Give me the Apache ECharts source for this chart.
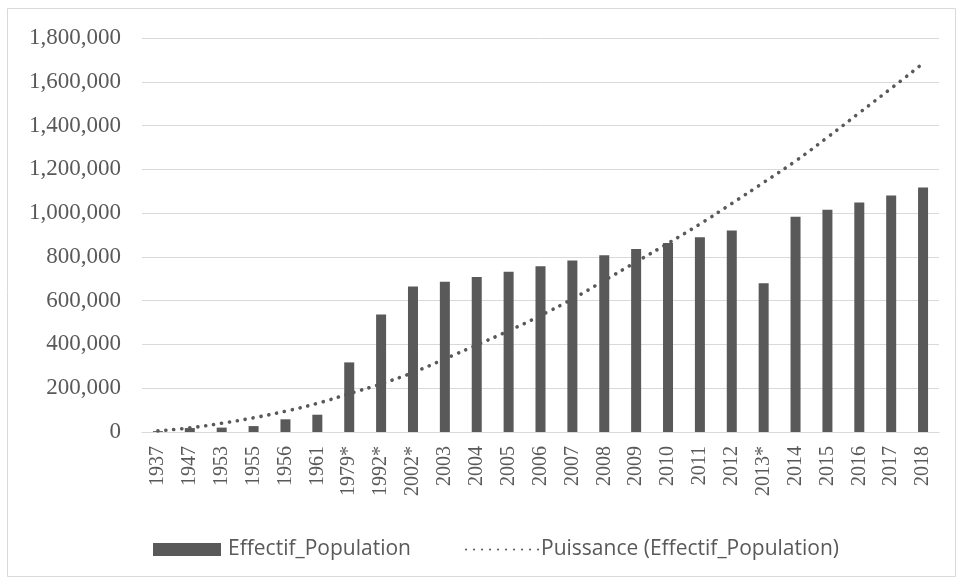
<!DOCTYPE html>
<html>
<head>
<meta charset="utf-8">
<script src="https://cdn.jsdelivr.net/npm/echarts@6/dist/echarts.min.js"></script>
<style>
html,body{margin:0;padding:0;background:#fff;}
#chart{width:956px;height:578px;}
</style>
</head>
<body>
<div id="chart"></div>
<script>
const categories = ['1937','1947','1953','1955','1956','1961','1979*','1992*','2002*','2003','2004','2005','2006','2007','2008','2009','2010','2011','2012','2013*','2014','2015','2016','2017','2018'];
const population = [4000, 18000, 20000, 27000, 58000, 79000, 318000, 537000, 665000, 686000, 708000, 732000, 757000, 783000, 808000, 836000, 863000, 890000, 921000, 680000, 983000, 1015000, 1048000, 1081000, 1117000];
const trend = [5000, 19000, 40000, 65000, 95000, 131000, 175000, 220000, 272000, 334000, 398000, 462000, 532000, 608000, 692000, 777000, 862000, 950000, 1044000, 1140000, 1238000, 1346000, 1458000, 1570000, 1684000];
const barName = 'Effectif_Population';
const trendName = 'Puissance (Effectif_Population)';

const chart = echarts.init(document.getElementById('chart'), null, {renderer: 'canvas'});
const grey = '#595959';
chart.setOption({
  animation: false,
  backgroundColor: '#fff',
  graphic: [{
    type: 'rect', silent: true, z: -1,
    shape: {x: 7.5, y: 8.5, width: 948, height: 568},
    style: {fill: 'none', stroke: '#d9d9d9', lineWidth: 1}
  }],
  grid: {left: 142, right: 17, top: 38, bottom: 146, containLabel: false},
  legend: [{
    data: [barName], left: 148, top: 534, icon: 'rect',
    itemWidth: 68, itemHeight: 13, itemGap: 0,
    textStyle: {fontFamily: 'Open Sans', fontSize: 21, color: grey, padding: [0,0,0,2]}
  }, {
    data: [trendName], left: 460, top: 534,
    itemWidth: 73, itemHeight: 13,
    itemStyle: {opacity: 0},
    textStyle: {fontFamily: 'Open Sans', fontSize: 21, color: grey, padding: [0,0,0,-3]}
  }],
  xAxis: {
    type: 'category', data: categories,
    axisLine: {lineStyle: {color: '#d9d9d9', width: 1}},
    axisTick: {show: false},
    axisLabel: {rotate: 90, interval: 0, margin: 14, color: grey, fontFamily: 'Liberation Serif', fontSize: 20}
  },
  yAxis: {
    type: 'value', min: 0, max: 1800000, interval: 200000,
    axisLine: {show: false}, axisTick: {show: false},
    splitLine: {lineStyle: {color: '#d9d9d9', width: 1}},
    axisLabel: {margin: 21, color: grey, fontFamily: 'Liberation Serif', fontSize: 23,
      formatter: v => v.toLocaleString('en-US')}
  },
  series: [{
    name: barName, type: 'bar', data: population, barWidth: 10,
    itemStyle: {color: grey}
  }, {
    name: trendName, type: 'line', data: trend, smooth: true,
    symbol: 'none', z: 5,
    lineStyle: {color: grey, width: 3.6, type: [0.1, 7.9], cap: 'round'},
    itemStyle: {color: grey}
  }]
});
</script>
</body>
</html>
